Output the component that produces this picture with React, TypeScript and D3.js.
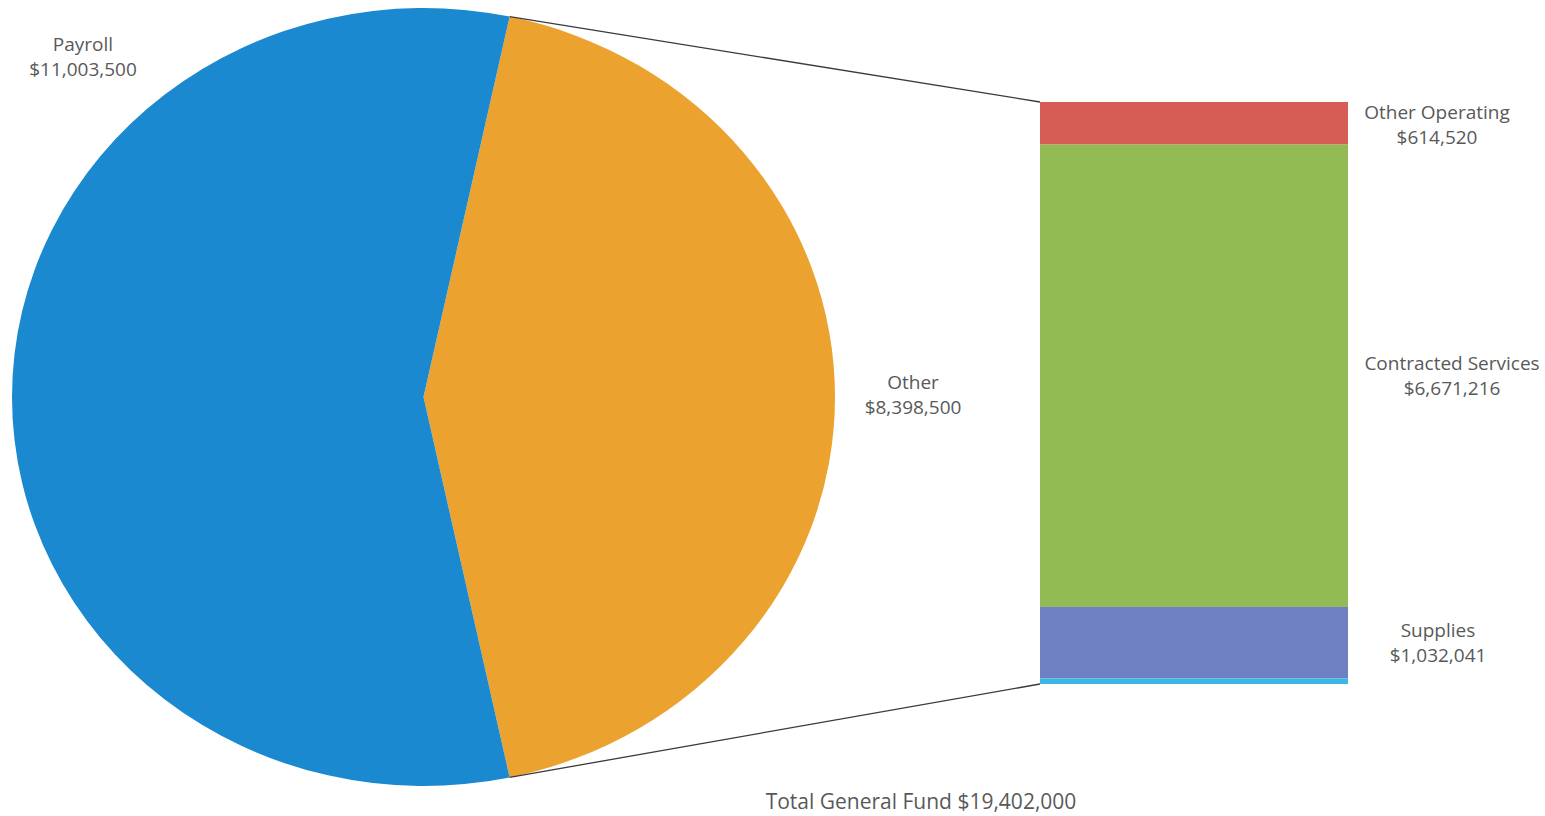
import * as d3 from 'd3';
import React, { useEffect, useRef } from 'react';

// pie: the two top level groups
const pieLabels = ["Other", "Payroll"];
const pieValues = [8398500, 11003500];
const pieColors = ["#eca22f", "#1b89cf"];

// bar of pie: breakdown of "Other", top to bottom
const barLabels = ["Other Operating", "Contracted Services", "Supplies", ""];
const barValues = [614520, 6671216, 1032041, 80723];
const barColors = ["#d65c56", "#93bb53", "#6f80c2", "#3cb6e3"];

const totalLabel = "Total General Fund $19,402,000";

const W = 1545;
const H = 816;

export default function App() {
  const svgRef = useRef(null);

  useEffect(() => {
    const svg = d3.select(svgRef.current);
    svg.selectAll("*").remove();

    const font = "'Open Sans', sans-serif";
    const textColor = "#595959";
    const fontSize = 19;

    const cx = 423.5, cy = 397, rx = 411.5, ry = 389;
    const total = d3.sum(pieValues);
    const otherAngle = (pieValues[0] / total) * 2 * Math.PI;
    const start = Math.PI / 2 - otherAngle / 2;

    const pie = d3.pie<number>().sort(null).startAngle(start).endAngle(start + 2 * Math.PI);
    const arcs = pie(pieValues);
    const arc = d3.arc<d3.PieArcDatum<number>>().innerRadius(0).outerRadius(ry);

    svg.append("g")
      .attr("transform", `translate(${cx},${cy}) scale(${rx / ry},1)`)
      .selectAll("path")
      .data(arcs)
      .join("path")
      .attr("d", arc)
      .attr("fill", (d, i) => pieColors[i]);

    // bar
    const barX0 = 1040, barX1 = 1348;
    const y = d3.scaleLinear().domain([0, pieValues[0]]).range([102, 684]);
    const cum = d3.cumsum(barValues);
    const segs = barValues.map((v, i) => ({ v, i, y0: cum[i] - v, y1: cum[i] }));

    svg.append("g")
      .selectAll("rect")
      .data(segs)
      .join("rect")
      .attr("x", barX0)
      .attr("width", barX1 - barX0)
      .attr("y", d => y(d.y0))
      .attr("height", d => y(d.y1) - y(d.y0))
      .attr("fill", d => barColors[d.i]);

    // connector lines
    const a0 = arcs[0].startAngle, a1 = arcs[0].endAngle;
    const p0 = [cx + rx * Math.sin(a0), cy - ry * Math.cos(a0)];
    const p1 = [cx + rx * Math.sin(a1), cy - ry * Math.cos(a1)];
    const lines = [
      [p0, [barX0, y(0)]],
      [p1, [barX0, y(pieValues[0])]],
    ];
    svg.append("g")
      .selectAll("line")
      .data(lines)
      .join("line")
      .attr("x1", d => d[0][0])
      .attr("y1", d => d[0][1])
      .attr("x2", d => d[1][0])
      .attr("y2", d => d[1][1])
      .attr("stroke", "#3a3a3a")
      .attr("stroke-width", 1.3);

    const fmt = d3.format("$,");

    const label = (x: number, yy: number, lines: string[], size = fontSize) => {
      const t = svg.append("text")
        .attr("x", x)
        .attr("y", yy)
        .attr("text-anchor", "middle")
        .attr("font-family", font)
        .attr("font-size", size)
        .attr("fill", textColor);
      lines.forEach((l, i) => {
        t.append("tspan").attr("x", x).attr("dy", i === 0 ? 0 : 25).text(l);
      });
    };

    label(83, 51, [pieLabels[1], fmt(pieValues[1])]);
    label(913, 389, [pieLabels[0], fmt(pieValues[0])]);

    const barLabelX = [1437, 1452, 1438];
    segs.forEach((s, i) => {
      if (!barLabels[i]) return;
      const mid = (y(s.y0) + y(s.y1)) / 2;
      label(barLabelX[i], i === 0 ? 119 : mid - 6, [barLabels[i], fmt(s.v)]);
    });

    label(921, 809, [totalLabel], 21);
  }, []);

  return (
    <svg ref={svgRef} width={W} height={H} style={{ position: "absolute", left: 0, top: 0, background: "#fff" }} />
  );
}
